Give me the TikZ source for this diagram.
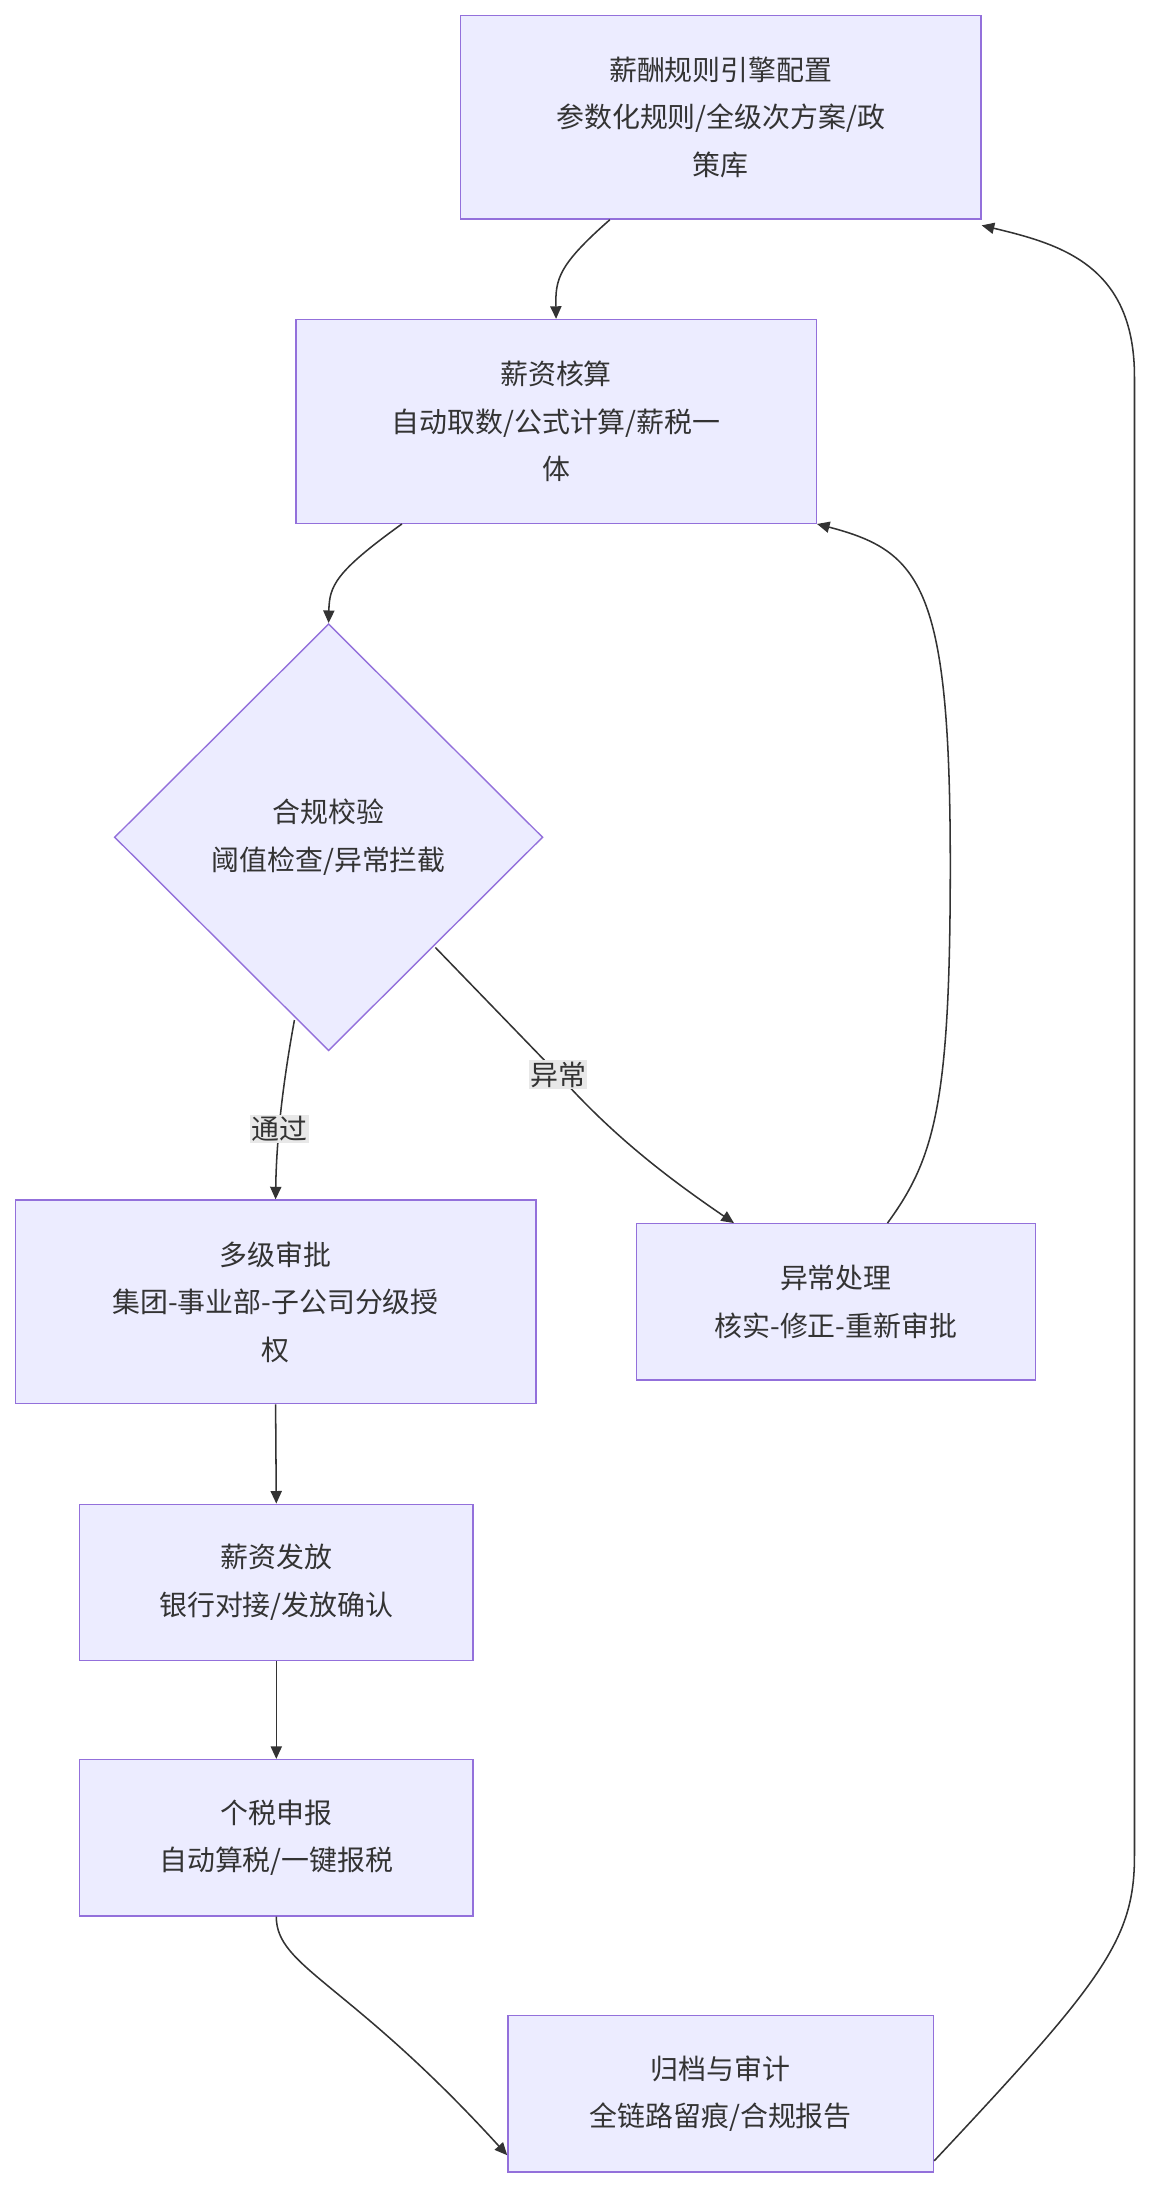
\documentclass[tikz,border=0pt]{standalone}
\usepackage{fontspec}
\setmainfont{Noto Sans CJK SC}
\usetikzlibrary{shapes.geometric,arrows.meta}
\definecolor{boxfill}{HTML}{ECECFF}
\definecolor{boxline}{HTML}{9370DB}
\definecolor{edge}{HTML}{333333}
\definecolor{lblbg}{HTML}{E8E8E8}
\begin{document}
\begin{tikzpicture}[x=1pt,y=-1pt,
  box/.style={draw=boxline,fill=boxfill,line width=1pt,align=center,font=\fontsize{20}{34}\selectfont,text=edge,inner sep=0pt},
  dia/.style={diamond,draw=boxline,fill=boxfill,line width=1pt,align=center,font=\fontsize{20}{34}\selectfont,text=edge,inner sep=0pt,minimum width=307pt,minimum height=306pt},
  arr/.style={draw=edge,line width=1.1pt,-{Triangle[length=9pt,width=8pt]}},
  lbl/.style={fill=lblbg,font=\fontsize{20}{24}\selectfont,text=edge,inner sep=1pt}]
\useasboundingbox (0,0) rectangle (830,1568);
\node[box,minimum width=373pt,minimum height=146pt] (b1) at (516.5,84) {薪酬规则引擎配置\\参数化规则/全级次方案/政\\策库};
\node[box,minimum width=373pt,minimum height=146pt] (b2) at (398.5,302) {薪资核算\\自动取数/公式计算/薪税一\\体};
\node[dia] (d) at (235.5,600) {合规校验\\阈值检查/异常拦截};
\node[box,minimum width=373pt,minimum height=146pt] (b3) at (197.5,933) {多级审批\\集团-事业部-子公司分级授\\权};
\node[box,minimum width=286pt,minimum height=112pt] (b4) at (599,933) {异常处理\\核实-修正-重新审批};
\node[box,minimum width=282pt,minimum height=112pt] (b5) at (198,1134) {薪资发放\\银行对接/发放确认};
\node[box,minimum width=282pt,minimum height=112pt] (b6) at (198,1317) {个税申报\\自动算税/一键报税};
\node[box,minimum width=305pt,minimum height=112pt] (b7) at (516.5,1500.5) {归档与审计\\全链路留痕/合规报告};
\coordinate (d1) at (211,731);
\coordinate (d2) at (312,679);
\draw[arr] ([xshift=-79.5pt]b1.south) .. controls (400,190) and (398,200) .. (b2.north);
\draw[arr] ([xshift=-110.5pt]b2.south) .. controls (240,410) and (236,420) .. (d.north);
\draw[arr] (d1) .. controls (202,780) and (198,820) .. (b3.north) node[lbl,pos=0.58] {通过};
\draw[arr] (d2) -- (400,770) node[lbl,pos=1] {异常} .. controls (440,815) and (480,845) .. ([xshift=-73pt]b4.north);
\draw[arr] ([xshift=37pt]b4.north) .. controls (670,830) and (681,790) .. (681,620) .. controls (681,420) and (660,395) .. (b2.south east);
\draw[arr] (b3.south) -- (b5.north);
\draw[arr] (b5.south) -- (b6.north);
\draw[arr] (b6.south) .. controls (198,1410) and (250,1420) .. ([yshift=-44pt]b7.west);
\draw[arr] ([yshift=-48pt]b7.east) .. controls (790,1420) and (813,1390) .. (813,1330) -- (813,270) .. controls (813,190) and (760,175) .. ([yshift=-4pt]b1.south east);
\end{tikzpicture}
\end{document}
